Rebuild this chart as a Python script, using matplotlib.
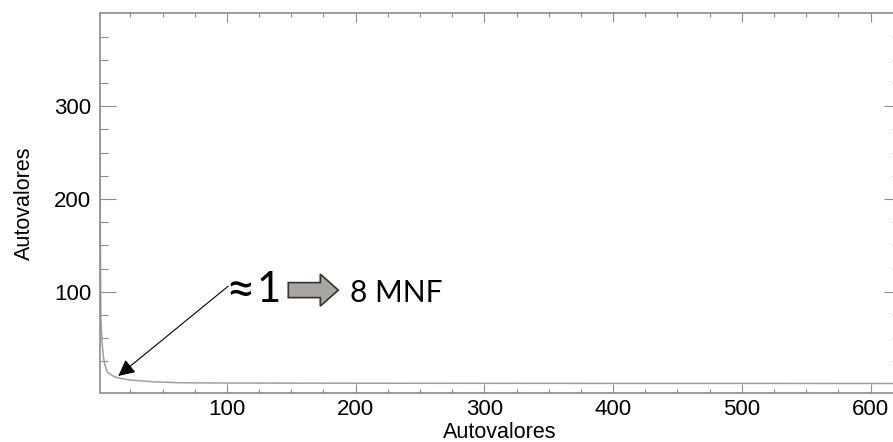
import matplotlib
matplotlib.use("Agg")
import matplotlib.pyplot as plt
import matplotlib.patches as mpatches
from matplotlib.ticker import FixedLocator, MultipleLocator

# Data (eigenvalue index vs. eigenvalue)
indices = [1, 2, 3, 4, 5, 7, 10, 13, 17, 25, 32, 42, 63, 100, 200, 300, 400, 500, 622]
eigenvalues = [323, 75, 45, 30, 22, 13.5, 10.5, 8.2, 6.7, 4.8, 4.1, 3.0, 1.9, 1.6, 1.4, 1.3, 1.2, 1.2, 1.1]

x_major = [100, 200, 300, 400, 500, 600]
y_major = [100, 200, 300]
y_minor = [25, 50, 75, 125, 150, 175, 225, 250, 275, 325, 350, 375]

xlabel = "Autovalores"
ylabel = "Autovalores"
approx_sign = "≈"
approx_value = "1"
mnf_text = "8 MNF"

arrow_tip = (15.6, 9.2)
arrow_tail = (101, 106)

plt.rcParams['font.family'] = ['Liberation Sans', 'DejaVu Sans']

W, H = 893, 442
fig = plt.figure(figsize=(W / 100, H / 100), dpi=100)
ax_l, ax_r, ax_t, ax_b = 99.5, 899.5, 13.3, 392.5
ax = fig.add_axes([ax_l / W, 1 - ax_b / H, (ax_r - ax_l) / W, (ax_b - ax_t) / H])

ax.plot(indices, eigenvalues, color='#9f9f9f', lw=1.1, solid_joinstyle='round')

ax.set_xlim(1, 622.5)
ax.set_ylim(-8.6, 400)

ax.xaxis.set_major_locator(FixedLocator(x_major))
ax.xaxis.set_minor_locator(MultipleLocator(25))
ax.yaxis.set_major_locator(FixedLocator(y_major))
ax.yaxis.set_minor_locator(FixedLocator(y_minor))

spine_col = '#8c8c8c'
for s in ax.spines.values():
    s.set_color(spine_col)
    s.set_linewidth(1.2)

ax.tick_params(axis='both', which='both', direction='in', top=True, right=True,
               color=spine_col, width=0.8, labelsize=16)
ax.tick_params(axis='x', which='major', length=6.8, pad=5)
ax.tick_params(axis='x', which='minor', length=3.0)
ax.tick_params(axis='y', which='major', length=11.5, pad=6)
ax.tick_params(axis='y', which='minor', length=5.8)

ax.set_xlabel(xlabel, fontsize=15.5, labelpad=1)
ax.set_ylabel(ylabel, fontsize=15.5, labelpad=14)

# annotation arrow
ax.annotate('', xy=arrow_tip, xytext=arrow_tail,
            arrowprops=dict(arrowstyle='-|>', color='black', lw=0.8,
                            mutation_scale=25, shrinkA=0, shrinkB=0))

# texts
ann_font = ['Lato', 'DejaVu Sans']
ax.text(0.158, 0.229, approx_sign, transform=ax.transAxes, fontsize=37,
        family=ann_font, ha='left', va='baseline', color='black')
ax.text(0.196, 0.2394, approx_value, transform=ax.transAxes, fontsize=30,
        family=ann_font, ha='left', va='baseline', color='black')
ax.text(0.313, 0.2394, mnf_text, transform=ax.transAxes, fontsize=21.5,
        family=ann_font, ha='left', va='baseline', color='black')

# block arrow
block = mpatches.FancyArrow(0.236, 0.270, 0.0625, 0.0, width=0.0396,
                            head_width=0.0844, head_length=0.0225,
                            length_includes_head=True, transform=ax.transAxes,
                            facecolor='#a8a5a5', edgecolor='#333333', lw=1.2)
ax.add_patch(block)

fig.savefig('out.png', dpi=100)
